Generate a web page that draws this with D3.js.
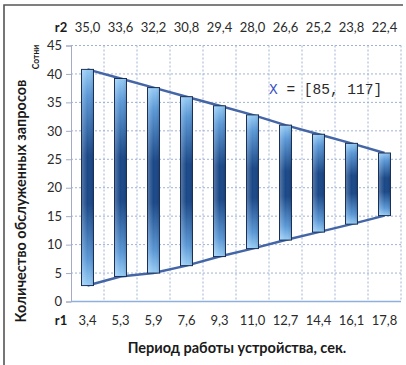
<!DOCTYPE html>
<html>
<head>
<meta charset="utf-8">
<script src="https://cdn.jsdelivr.net/npm/d3@7"></script>
<style>
  body { margin: 0; background: #fff; }
  svg { font-family: Lato, "Open Sans", sans-serif; }
</style>
</head>
<body>
<svg width="406" height="365"></svg>
<script>
// chart data
const r1Labels = ["3,4", "5,3", "5,9", "7,6", "9,3", "11,0", "12,7", "14,4", "16,1", "17,8"];
const r2Labels = ["35,0", "33,6", "32,2", "30,8", "29,4", "28,0", "26,6", "25,2", "23,8", "22,4"];
const highValues = [40.8, 39.2, 37.6, 36.0, 34.4, 32.8, 31.0, 29.4, 27.8, 26.1];
const lowValues = [2.8, 4.4, 5.0, 6.3, 7.9, 9.3, 10.8, 12.2, 13.6, 15.1];
const yTicks = [0, 5, 10, 15, 20, 25, 30, 35, 40, 45];

const svg = d3.select("svg");

// frame
svg.append("path")
    .attr("d", "M4,365 V5 H403")
    .attr("fill", "none")
    .attr("stroke", "#555")
    .attr("stroke-width", 1.6)

const x = d3.scaleBand()
    .domain(d3.range(r1Labels.length))
    .range([71, 401])
    .padding(0)

const y = d3.scaleLinear()
    .domain([0, 45])
    .range([301.5, 45.5])

// gradient for the bars
const defs = svg.append("defs");
const grad = defs.append("linearGradient")
    .attr("id", "barGrad")
    .attr("x1", 0).attr("y1", 0)
    .attr("x2", 0).attr("y2", 1)
const stops = [
  [0, "#95cbf5"], [0.12, "#5b98d6"], [0.4, "#1a4888"],
  [0.62, "#1a4888"], [0.88, "#5b98d6"], [1, "#98cdf6"]
];
stops.forEach(s => grad.append("stop").attr("offset", s[0]).attr("stop-color", s[1]));

const gradH = defs.append("linearGradient")
    .attr("id", "barShine")
    .attr("x1", 0).attr("y1", 0)
    .attr("x2", 1).attr("y2", 0)
gradH.append("stop").attr("offset", 0).attr("stop-color", "#fff").attr("stop-opacity", 0.25);
gradH.append("stop").attr("offset", 0.5).attr("stop-color", "#fff").attr("stop-opacity", 0);
gradH.append("stop").attr("offset", 1).attr("stop-color", "#000").attr("stop-opacity", 0.1);

// grid
const grid = svg.append("g").attr("class", "grid");
grid.selectAll("line.h")
    .data(yTicks.slice(1))
    .join("line")
    .attr("class", "h")
    .attr("x1", 71).attr("x2", 401)
    .attr("y1", d => y(d)).attr("y2", d => y(d))
    .attr("stroke", "#9fb2d4")
    .attr("stroke-dasharray", "2,2")

grid.selectAll("line.v")
    .data(d3.range(1, r1Labels.length + 1))
    .join("line")
    .attr("class", "v")
    .attr("x1", d => 71 + d * x.bandwidth()).attr("x2", d => 71 + d * x.bandwidth())
    .attr("y1", y(45)).attr("y2", y(0))
    .attr("stroke", "#9fb2d4")
    .attr("stroke-dasharray", "2,2")

// y axis
const yAxis = svg.append("g")
    .attr("transform", "translate(71,0)")
    .call(d3.axisLeft(y).tickValues(yTicks).tickSize(5).tickPadding(4))
yAxis.select(".domain").attr("stroke", "#a4acc4");
yAxis.selectAll(".tick line").attr("stroke", "#a4acc4");
yAxis.selectAll("text").attr("font-size", 13).attr("fill", "#2a2a2a").attr("font-family", "Lato");

// x axis line
svg.append("line")
    .attr("x1", 71).attr("x2", 401)
    .attr("y1", y(0)).attr("y2", y(0))
    .attr("stroke", "#8fb0dc")
    .attr("stroke-width", 1.5)

// envelope lines
const cx = i => x(i) + x.bandwidth() / 2;
const line = d3.line()
    .x((d, i) => cx(i))
    .y(d => y(d))

svg.append("path")
    .datum(highValues)
    .attr("d", line)
    .attr("fill", "none")
    .attr("stroke", "#4466a6")
    .attr("stroke-width", 2.5)

svg.append("path")
    .datum(lowValues)
    .attr("d", line)
    .attr("fill", "none")
    .attr("stroke", "#4466a6")
    .attr("stroke-width", 2.5)

// floating bars
const barW = 12;
const bars = svg.append("g").attr("class", "bars");
bars.selectAll("rect.bar")
    .data(highValues)
    .join("rect")
    .attr("class", "bar")
    .attr("x", (d, i) => cx(i) - barW / 2)
    .attr("y", d => y(d))
    .attr("width", barW)
    .attr("height", (d, i) => y(lowValues[i]) - y(d))
    .attr("fill", "url(#barGrad)")
    .attr("stroke", "#1c2f55")
    .attr("stroke-width", 1)

bars.selectAll("rect.shine")
    .data(highValues)
    .join("rect")
    .attr("class", "shine")
    .attr("x", (d, i) => cx(i) - barW / 2 + 0.5)
    .attr("y", d => y(d) + 0.5)
    .attr("width", barW - 1)
    .attr("height", (d, i) => y(lowValues[i]) - y(d) - 1)
    .attr("fill", "url(#barShine)")

// top labels (r2)
svg.selectAll("text.r2")
    .data(r2Labels)
    .join("text")
    .attr("class", "r2")
    .attr("x", (d, i) => cx(i))
    .attr("y", 32)
    .attr("text-anchor", "middle")
    .attr("font-size", 13)
    .attr("fill", "#2a2a2a")
    .text(d => d)

// bottom labels (r1)
svg.selectAll("text.r1")
    .data(r1Labels)
    .join("text")
    .attr("class", "r1")
    .attr("x", (d, i) => cx(i))
    .attr("y", 325)
    .attr("text-anchor", "middle")
    .attr("font-size", 13)
    .attr("fill", "#2a2a2a")
    .text(d => d)

svg.append("text")
    .attr("x", 61).attr("y", 32)
    .attr("text-anchor", "middle")
    .attr("font-size", 13).attr("font-weight", "bold").attr("fill", "#1a1a1a")
    .text("r2")

svg.append("text")
    .attr("x", 61).attr("y", 325)
    .attr("text-anchor", "middle")
    .attr("font-size", 13).attr("font-weight", "bold").attr("fill", "#1a1a1a")
    .text("r1")

// axis titles
svg.append("text")
    .attr("transform", "translate(26,201) rotate(-90)")
    .attr("text-anchor", "middle")
    .attr("font-size", 14.5).attr("font-weight", "bold").attr("fill", "#1a1a1a")
    .text("Количество обслуженных запросов")

svg.append("text")
    .attr("transform", "translate(39,57) rotate(-90)")
    .attr("text-anchor", "middle")
    .attr("font-size", 8.5).attr("font-weight", "bold").attr("fill", "#1a1a1a")
    .text("Сотни")

svg.append("text")
    .attr("x", 237).attr("y", 353)
    .attr("text-anchor", "middle")
    .attr("font-size", 14.5).attr("font-weight", "bold").attr("fill", "#1a1a1a")
    .text("Период работы устройства, сек.")

// annotation
const note = svg.append("text")
    .attr("x", 269).attr("y", 94)
    .attr("font-family", "Liberation Mono, DejaVu Sans Mono, monospace")
    .attr("font-size", 14.5)
    .attr("fill", "#2a2a2a")
note.append("tspan").attr("fill", "#3a4fc4").text("X");
note.append("tspan").attr("xml:space", "preserve").text(" = [85, 117]");
</script>
</body>
</html>
